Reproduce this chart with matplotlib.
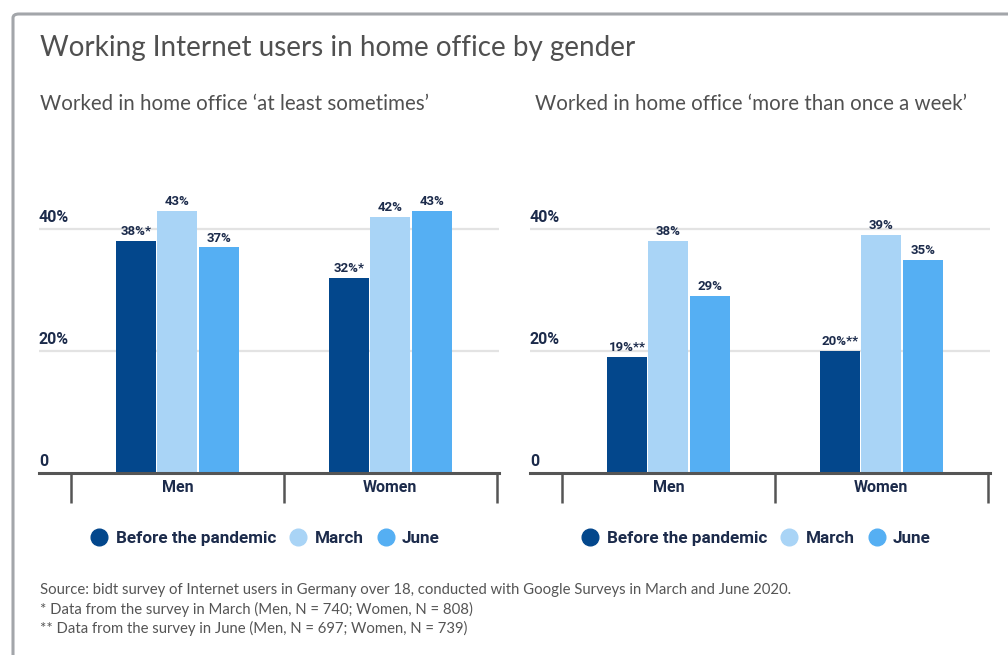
import matplotlib.pyplot as plt
from matplotlib.patches import FancyBboxPatch
from matplotlib.lines import Line2D

# Survey shares in percent
groups = ["Men", "Women"]
series = ["Before the pandemic", "March", "June"]
sometimes = [[38, 32], [43, 42], [37, 43]]
weekly = [[19, 20], [38, 39], [29, 35]]
sometimes_marks = [["*", "*"], ["", ""], ["", ""]]
weekly_marks = [["**", "**"], ["", ""], ["", ""]]
yticks = [0, 20, 40]
ytick_labels = ["0", "20%", "40%"]

title = "Working Internet users in home office by gender"
subtitles = ["Worked in home office \u2018at least sometimes\u2019",
             "Worked in home office \u2018more than once a week\u2019"]
notes = ["Source: bidt survey of Internet users in Germany over 18, conducted with Google Surveys in March and June 2020.",
         "* Data from the survey in March (Men, N = 740; Women, N = 808)",
         "** Data from the survey in June (Men, N = 697; Women, N = 739)"]

colors = ["#03478c", "#a9d4f6", "#55aff3"]
navy = "#1c2b4b"
grey_text = "#505050"

W, H = 1008, 655
fig = plt.figure(figsize=(W / 100, H / 100), dpi=100)

# outer card border
card = FancyBboxPatch((13 / W, -0.05), 1.2, (H - 14) / H + 0.05,
                      boxstyle="round,pad=0,rounding_size=0.006",
                      transform=fig.transFigure, fill=False,
                      edgecolor="#a3a6aa", linewidth=2.2)
fig.patches.append(card)

fig.text(40 / W, 1 - 48 / H, title, fontsize=20, family="Lato",
         color=grey_text, va="center")


def draw_panel(left_px, values, marks, subtitle, sub_x):
    ax = fig.add_axes([left_px / W, (H - 473) / H, 460 / W, 274.5 / H])
    width = 0.188
    offsets = [-0.195, 0, 0.195]
    for i, name in enumerate(series):
        xs = [g + offsets[i] for g in range(len(groups))]
        ax.bar(xs, values[i], width=width, color=colors[i], zorder=2)
        for x, v, m in zip(xs, values[i], marks[i]):
            ax.annotate(f"{v}%{m}", (x, v), xytext=(0, 2),
                        textcoords="offset points", ha="center", va="bottom",
                        fontsize=9.5, fontweight="bold", family="Roboto",
                        color=navy)
    ax.set_xlim(-0.65, 1.51)
    ax.set_ylim(0, 45)
    for y, lab in zip(yticks, ytick_labels):
        if y > 0:
            ax.axhline(y, color="#e3e3e3", linewidth=1.6, zorder=1)
        ax.annotate(lab, (-0.65, y), xytext=(0, 3), textcoords="offset points",
                    ha="left", va="bottom", fontsize=11.5, fontweight="bold",
                    family="Roboto", color=navy)
    for s in ["top", "right", "left"]:
        ax.spines[s].set_visible(False)
    ax.spines["bottom"].set_color("#555555")
    ax.spines["bottom"].set_linewidth(2.2)
    ax.spines["bottom"].set_zorder(3)
    ax.set_yticks([])
    ax.set_xticks(range(len(groups)))
    ax.set_xticklabels(groups, fontsize=11.5, fontweight="bold",
                       family="Roboto", color=navy)
    ax.tick_params(axis="x", which="major", length=0, pad=5)
    ax.set_xticks([-0.5, 0.5, 1.5], minor=True)
    ax.tick_params(axis="x", which="minor", length=21.5, width=1.8,
                   color="#555555", direction="out")

    fig.text(sub_x / W, 1 - 104 / H, subtitle, fontsize=14.8, family="Lato",
             color=grey_text, va="center")

    handles = [Line2D([], [], marker="o", linestyle="", markersize=12,
                      markerfacecolor=c, markeredgecolor=c) for c in colors]
    ax.legend(handles, series, loc="center", bbox_to_anchor=(0.49, -0.24),
              ncol=3, frameon=False, handletextpad=0.35, columnspacing=0.7,
              handlelength=1.2,
              prop={"family": "Roboto", "weight": "bold", "size": 12.3})
    leg = ax.get_legend()
    for t in leg.get_texts():
        t.set_color(navy)
    return ax


draw_panel(39, sometimes, sometimes_marks, subtitles[0], 40)
draw_panel(530, weekly, weekly_marks, subtitles[1], 535)

for k, line in enumerate(notes):
    fig.text(40 / W, 1 - (590 + k * 19) / H, line, fontsize=10.7,
             family="Lato", color="#555555", va="center")

fig.savefig("out.png", dpi=100, facecolor="white")
